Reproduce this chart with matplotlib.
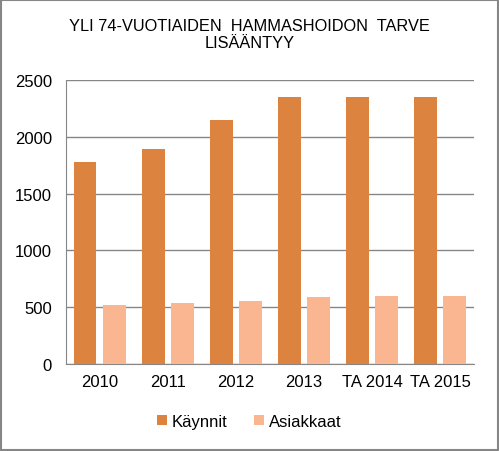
import matplotlib.pyplot as plt
import numpy as np
from matplotlib.patches import Rectangle

plt.rcParams['font.family'] = ['Liberation Sans', 'DejaVu Sans']

years = ['2010', '2011', '2012', '2013', 'TA 2014', 'TA 2015']
kaynnit = [1780, 1890, 2150, 2350, 2350, 2350]
asiakkaat = [520, 540, 555, 590, 600, 600]

c_dark = '#DC843F'
c_light = '#F9B690'
grey = '#868686'

fig = plt.figure(figsize=(4.99, 4.52), dpi=100)
ax = fig.add_axes([0.132, 0.1925, 0.818, 0.6285])

x = np.arange(len(years))
w = 0.33
ax.bar(x - 0.215, kaynnit, w, color=c_dark, label='Käynnit', zorder=3)
ax.bar(x + 0.215, asiakkaat, w, color=c_light, label='Asiakkaat', zorder=3)

ax.set_xlim(-0.5, len(years) - 0.5)
ax.set_ylim(0, 2500)
ax.set_yticks(range(0, 2501, 500))
ax.set_xticks(x)
ax.set_xticklabels(years)
ax.yaxis.grid(True, color=grey, lw=1, zorder=0)
ax.tick_params(length=0, labelsize=12, colors='black', pad=10)
ax.tick_params(axis='x', pad=7)
for s in ['top', 'right']:
    ax.spines[s].set_visible(False)
for s in ['left', 'bottom']:
    ax.spines[s].set_color(grey)

fig.text(0.5, 0.958, 'YLI 74-VUOTIAIDEN  HAMMASHOIDON  TARVE\nLISÄÄNTYY',
         ha='center', va='top', fontsize=11.8, linespacing=1.2)

fig.legend(loc='center', bbox_to_anchor=(0.5, 0.066), ncol=2, frameon=False,
           fontsize=12, handlelength=0.6, handleheight=0.6, handletextpad=0.3,
           columnspacing=1.6)

fig.patches.append(Rectangle((0.002, 0.002), 0.996, 0.996, transform=fig.transFigure,
                             fill=False, edgecolor=grey, lw=1.5))

fig.savefig('out.png', dpi=100)
